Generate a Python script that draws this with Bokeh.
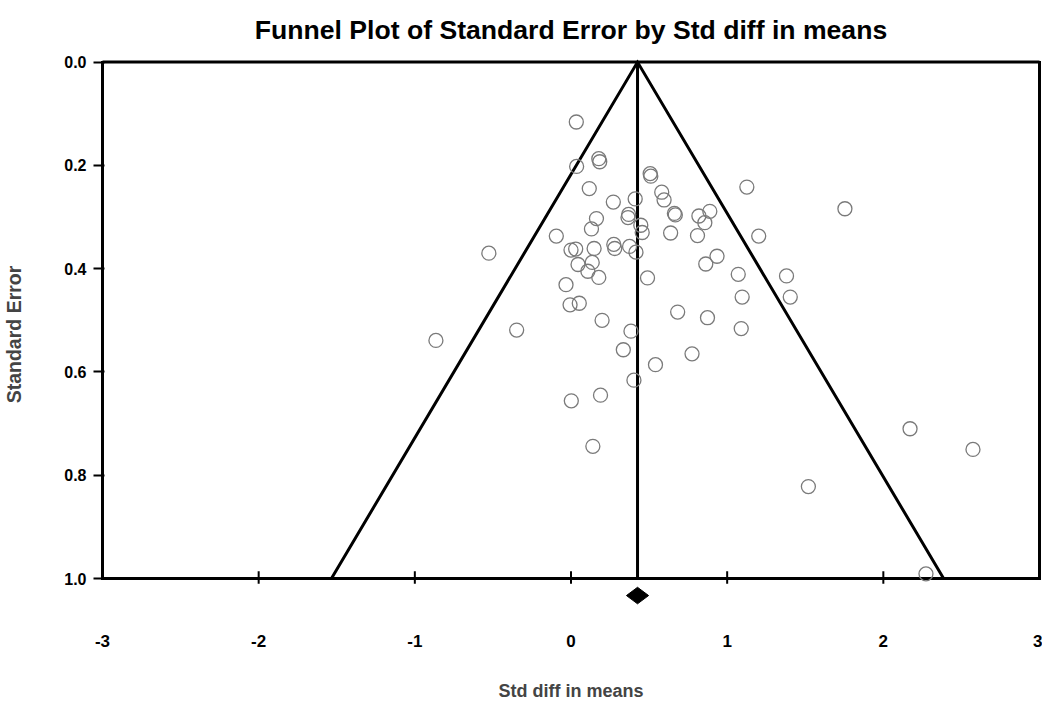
from bokeh.plotting import figure
from bokeh.models import Range1d, LinearAxis, FixedTicker, NumeralTickFormatter
from bokeh.embed import file_html
from bokeh.resources import INLINE

# ---- data ----
std_diff = [0.034, 0.036, 0.178, 0.184, 0.507, 0.511, 0.117, 0.581, 0.596, 0.271,
            0.411, 0.662, 0.668, 0.819, 0.889, 0.857, 0.365, 0.369, 0.163, 0.131,
            0.447, 0.456, -0.094, 0.638, 0.810, 0.000, 0.030, 0.148, 0.274, 0.280,
            0.375, 0.416, -0.526, 0.045, 0.136, 0.108, 0.178, 0.490, -0.032, -0.006,
            0.053, 0.683, -0.348, 0.199, -0.865, 0.384, 0.335, 0.775, 0.541, 0.403,
            0.189, 0.002, 0.140, 1.126, 1.754, 1.202, 0.935, 0.863, 1.071, 1.380,
            1.096, 1.404, 0.874, 1.090, 1.520, 2.171, 2.574, 2.273]
std_err = [0.116, 0.202, 0.187, 0.193, 0.216, 0.221, 0.245, 0.252, 0.267, 0.271,
           0.265, 0.293, 0.296, 0.298, 0.289, 0.311, 0.301, 0.295, 0.303, 0.323,
           0.316, 0.330, 0.337, 0.331, 0.336, 0.364, 0.362, 0.361, 0.353, 0.361,
           0.357, 0.368, 0.370, 0.392, 0.388, 0.405, 0.417, 0.418, 0.431, 0.470,
           0.467, 0.484, 0.519, 0.500, 0.539, 0.521, 0.557, 0.565, 0.586, 0.616,
           0.645, 0.656, 0.744, 0.242, 0.284, 0.337, 0.376, 0.391, 0.411, 0.414,
           0.455, 0.455, 0.495, 0.516, 0.822, 0.710, 0.750, 0.991]
x_ticks = [-3, -2, -1, 0, 1, 2, 3]
y_ticks = [0.0, 0.2, 0.4, 0.6, 0.8, 1.0]
pooled = 0.426
pooled_ci = [0.355, 0.497]
funnel_z = 1.96
se_max = 1.0

FONT = "Liberation Sans"

p = figure(width=1042, height=703,
           x_range=Range1d(x_ticks[0], x_ticks[-1]),
           y_range=Range1d(1.06, -0.005),
           output_backend="svg", toolbar_location=None,
           x_axis_location=None, y_axis_location=None,
           min_border_left=102, min_border_right=3,
           min_border_top=59, min_border_bottom=94)
p.grid.visible = False
p.outline_line_color = None
p.background_fill_color = "white"
p.border_fill_color = "white"

p.title.text = "Funnel Plot of Standard Error by Std diff in means"
p.title.align = "center"
p.title.vertical_align = "top"
p.title.text_font = FONT
p.title.text_font_size = "26.6px"
p.title.text_font_style = "bold"
p.title.text_color = "black"
p.title.standoff = 25

# left axis
left = LinearAxis(bounds=(y_ticks[0], y_ticks[-1]), ticker=FixedTicker(ticks=y_ticks),
                  formatter=NumeralTickFormatter(format="0.0"),
                  axis_label="Standard Error")
left.axis_line_width = 3
left.axis_line_cap = "square"
left.major_tick_line_width = 2
left.major_tick_out = 9
left.major_tick_in = 2
left.minor_tick_line_color = None
left.major_label_standoff = 7
left.major_label_text_font = FONT
left.major_label_text_font_size = "16px"
left.major_label_text_font_style = "bold"
left.major_label_text_color = "black"
left.axis_label_text_font = FONT
left.axis_label_text_font_size = "19.5px"
left.axis_label_text_font_style = "bold"
left.axis_label_standoff = 36
p.add_layout(left, "left")

# right border
right = LinearAxis(bounds=(y_ticks[0], y_ticks[-1]), ticker=FixedTicker(ticks=[]))
right.axis_line_width = 3
right.axis_line_cap = "square"
right.major_tick_out = 0
right.major_tick_in = 0
right.major_label_standoff = 0
p.add_layout(right, "right")

# bottom labels
bottom = LinearAxis(ticker=FixedTicker(ticks=x_ticks),
                    formatter=NumeralTickFormatter(format="0"),
                    axis_label="Std diff in means")
bottom.axis_line_color = None
bottom.major_tick_line_color = None
bottom.minor_tick_line_color = None
bottom.major_tick_out = 0
bottom.major_tick_in = 0
bottom.major_label_standoff = 25
bottom.major_label_text_font = FONT
bottom.major_label_text_font_size = "17px"
bottom.major_label_text_font_style = "bold"
bottom.major_label_text_color = "black"
bottom.axis_label_text_font = FONT
bottom.axis_label_text_font_size = "18px"
bottom.axis_label_text_font_style = "bold"
bottom.axis_label_standoff = 31
p.add_layout(bottom, "below")

# frame lines at SE = 0 and SE = 1.0, and the tick marks on the latter
p.segment(x0=[x_ticks[0]] * 2, y0=[y_ticks[0], se_max], x1=[x_ticks[-1]] * 2, y1=[y_ticks[0], se_max],
          line_color="black", line_width=3, line_cap="square")
inner = x_ticks[1:-1]
p.segment(x0=inner, y0=[se_max - 0.014] * len(inner), x1=inner, y1=[se_max + 0.010] * len(inner),
          line_color="black", line_width=2)

# funnel
p.line([pooled - funnel_z * se_max, pooled, pooled + funnel_z * se_max], [se_max, 0.0, se_max],
       line_color="black", line_width=3, line_join="miter")
p.segment(x0=[pooled], y0=[0.0], x1=[pooled], y1=[se_max], line_color="black", line_width=3)

# studies
p.scatter(std_diff, std_err, marker="circle", size=14, fill_color=None,
          line_color="#7a7a7a", line_width=1.3)

# pooled estimate diamond
dy = 1.033
dh = 0.016
p.patch([pooled_ci[0], pooled, pooled_ci[1], pooled], [dy, dy - dh, dy, dy + dh],
        fill_color="black", line_color="black")

open("out.html", "w").write(file_html(p, INLINE))
